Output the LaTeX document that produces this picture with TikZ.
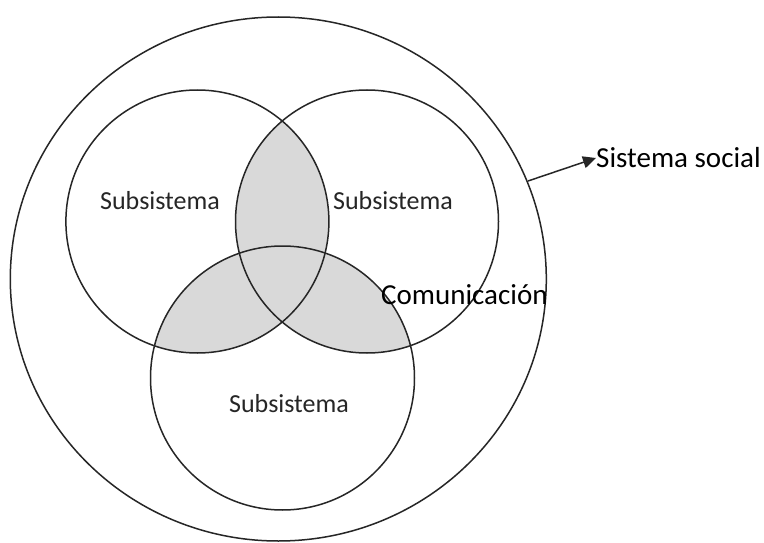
\documentclass[tikz,border=0pt]{standalone}
\usepackage{fontspec}
\setmainfont{Carlito}
\usetikzlibrary{arrows.meta}
\begin{document}
\begin{tikzpicture}[x=1pt,y=-1pt,
  ring/.style={draw=black!85, line width=1.5pt},
  lens/.style={fill=black!15},
  sublabel/.style={font=\fontsize{26}{30}\selectfont, text=black!85, inner sep=0pt},
  biglabel/.style={font=\fontsize{29}{33}\selectfont, inner sep=0pt},
  pointer/.style={draw=black!85, line width=1.5pt, -{Triangle[length=13pt,width=12pt]}}]
\useasboundingbox (0,0) rectangle (764,543);
\fill[white] (0,0) rectangle (764,543);
% centres
\coordinate (cA) at (197.4,221.5);
\coordinate (cB) at (367.0,221.5);
\coordinate (cC) at (282.5,378.0);
\coordinate (cO) at (278.3,279.0);
% shaded pairwise overlaps
\begin{scope}
  \clip (cA) circle[radius=131.5pt];
  \fill[lens] (cB) circle[radius=131.5pt];
  \fill[lens] (cC) circle[radius=132pt];
\end{scope}
\begin{scope}
  \clip (cB) circle[radius=131.5pt];
  \fill[lens] (cC) circle[radius=132pt];
\end{scope}
% outlines
\draw[ring] (cO) ellipse[x radius=268pt, y radius=262pt];
\draw[ring] (cA) circle[radius=131.5pt];
\draw[ring] (cB) circle[radius=131.5pt];
\draw[ring] (cC) circle[radius=132pt];
% labels
\node[sublabel] (sA) at (160,201) {Subsistema};
\node[sublabel] (sB) at (393,201) {Subsistema};
\node[sublabel] (sC) at (289,404) {Subsistema};
\node[biglabel, anchor=west] (com) at (381,295) {Comunicación};
\node[biglabel, anchor=west] (soc) at (596,158) {Sistema social};
\coordinate (pstart) at (528,181);
\draw[pointer] (pstart) -- (soc.west);
\end{tikzpicture}
\end{document}
